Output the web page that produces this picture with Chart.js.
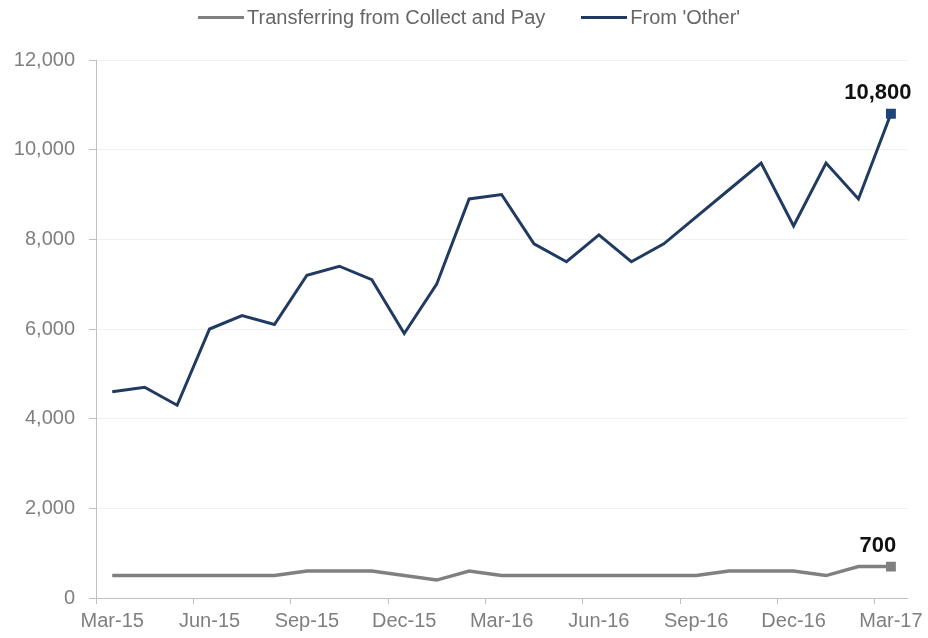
<!DOCTYPE html>
<html>
<head>
<meta charset="utf-8">
<script src="https://cdn.jsdelivr.net/npm/chart.js@4"></script>
<style>
  html, body { margin: 0; padding: 0; background: #fff; }
  #wrap { position: relative; width: 928px; height: 638px; }
  #legenda {
    position: absolute; left: 198px; top: 6px;
    display: flex; align-items: center;
    font: 20px "Liberation Sans", Arial, sans-serif; color: #666;
  }
  #legenda .item { display: flex; align-items: center; margin-right: 36px; }
  #legenda .traco { display: inline-block; width: 46px; height: 3px; margin-right: 3px; }
</style>
</head>
<body>
<div id="wrap">
  <canvas id="grafico"></canvas>
  <div id="legenda"></div>
</div>
<script>
// Monthly series, Mar-15 to Mar-17
const meses = ['Mar-15', 'Apr-15', 'May-15', 'Jun-15', 'Jul-15', 'Aug-15', 'Sep-15', 'Oct-15', 'Nov-15',
  'Dec-15', 'Jan-16', 'Feb-16', 'Mar-16', 'Apr-16', 'May-16', 'Jun-16', 'Jul-16', 'Aug-16',
  'Sep-16', 'Oct-16', 'Nov-16', 'Dec-16', 'Jan-17', 'Feb-17', 'Mar-17'];

const collectPay = [500, 500, 500, 500, 500, 500, 600, 600, 600, 500, 400, 600, 500,
  500, 500, 500, 500, 500, 500, 600, 600, 600, 500, 700, 700];

const outros = [4600, 4700, 4300, 6000, 6300, 6100, 7200, 7400, 7100, 5900, 7000, 8900, 9000,
  7900, 7500, 8100, 7500, 7900, 8500, 9100, 9700, 8300, 9700, 8900, 10800];

const yTicks = [0, 2000, 4000, 6000, 8000, 10000, 12000];

const cinza = '#808080';
const azul = '#203a62';
const fonte = '"Liberation Sans", Arial, sans-serif';
const ultimo = meses.length - 1;

// only the final point gets a square marker
const marcaFinal = ctx => ctx.dataIndex === ultimo ? 7 : 0;

// writes the last value above each line
const rotuloFinal = {
  id: 'rotuloFinal',
  afterDatasetsDraw(chart) {
    const c = chart.ctx;
    c.save();
    c.font = 'bold 22px ' + fonte;
    c.fillStyle = '#111';
    c.textAlign = 'center';
    c.textBaseline = 'alphabetic';
    chart.data.datasets.forEach((ds, i) => {
      const pt = chart.getDatasetMeta(i).data[ultimo];
      const v = ds.data[ultimo];
      c.fillText(v.toLocaleString('en-US'), pt.x - 13, pt.y - 15);
    });
    c.restore();
  }
};

const linha = document.getElementById('grafico').getContext('2d');

const grafico = new Chart(linha, {
  type: 'line',
  data: {
    labels: meses,
    datasets: [
      {
        label: 'Transferring from Collect and Pay',
        data: collectPay,
        borderColor: cinza,
        backgroundColor: cinza,
        borderWidth: 3.5,
        pointStyle: 'rect',
        pointRadius: marcaFinal,
        pointHoverRadius: marcaFinal,
        pointBorderWidth: 0,
        tension: 0
      },
      {
        label: "From 'Other'",
        data: outros,
        borderColor: azul,
        backgroundColor: '#1f4578',
        borderWidth: 3,
        pointStyle: 'rect',
        pointRadius: marcaFinal,
        pointHoverRadius: marcaFinal,
        pointBorderWidth: 0,
        tension: 0
      }
    ]
  },
  options: {
    responsive: true,
    maintainAspectRatio: false,
    animation: false,
    layout: { padding: { top: 60, right: 20, left: 0, bottom: 0 } },
    plugins: {
      tooltip: { enabled: false },
      legend: { display: false }
    },
    scales: {
      x: {
        offset: true,
        grid: {
          offset: true,
          drawOnChartArea: false,
          tickLength: 6,
          tickColor: ctx => ctx.index % 3 === 0 ? '#bfbfbf' : 'rgba(0,0,0,0)'
        },
        border: { color: '#bfbfbf', width: 1 },
        ticks: {
          autoSkip: false,
          maxRotation: 0,
          padding: 5,
          color: '#7f7f7f',
          font: { family: fonte, size: 20 },
          callback: (v, i) => i % 3 === 0 ? meses[i] : ''
        }
      },
      y: {
        min: 0,
        max: 12000,
        afterBuildTicks: scale => { scale.ticks = yTicks.map(v => ({ value: v })); },
        afterFit: scale => { scale.width = 96; },
        grid: {
          color: '#f0f0f0',
          tickColor: '#bfbfbf',
          tickLength: 7
        },
        border: { color: '#bfbfbf', width: 1 },
        ticks: {
          padding: 14,
          color: '#7f7f7f',
          font: { family: fonte, size: 20 },
          callback: v => v.toLocaleString('en-US')
        }
      }
    }
  },
  plugins: [rotuloFinal]
});

// legend built from the datasets: short line + series name
const legenda = document.getElementById('legenda');
grafico.data.datasets.forEach(ds => {
  const item = document.createElement('span');
  item.className = 'item';
  const traco = document.createElement('span');
  traco.className = 'traco';
  traco.style.background = ds.borderColor;
  item.appendChild(traco);
  item.appendChild(document.createTextNode(ds.label));
  legenda.appendChild(item);
});
</script>
</body>
</html>
